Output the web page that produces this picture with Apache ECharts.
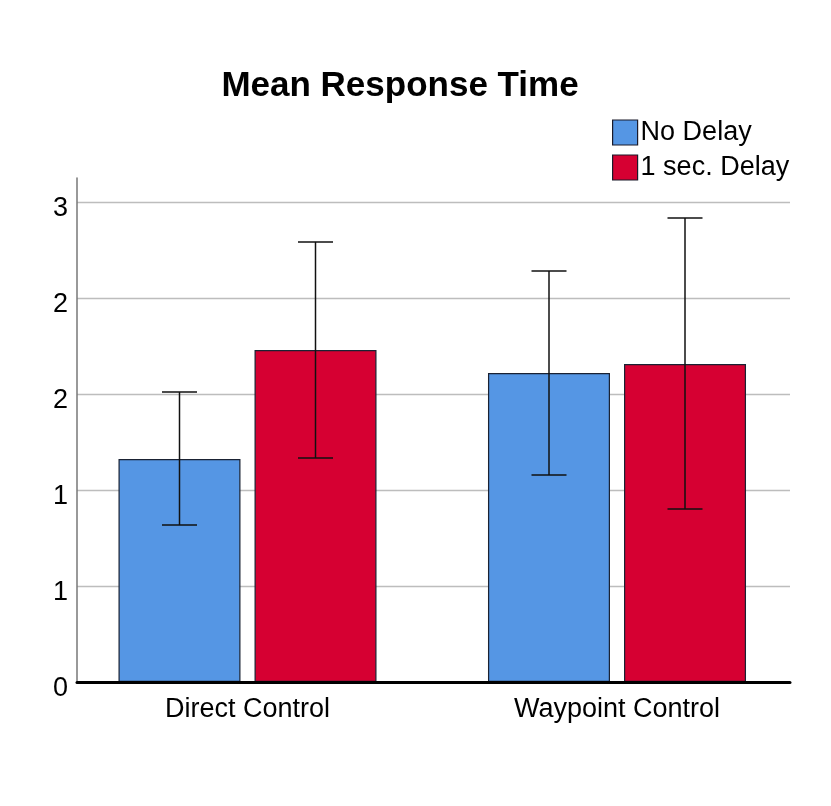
<!DOCTYPE html>
<html><head><meta charset="utf-8">
<script src="https://cdn.jsdelivr.net/npm/echarts@6/dist/echarts.min.js"></script>
<style>html,body{margin:0;padding:0;background:#fff}#c{width:831px;height:806px}</style>
</head><body><div id="c"></div>
<script>
const categories = ['Direct Control', 'Waypoint Control'];
const seriesNames = ['No Delay', '1 sec. Delay'];
const noDelay = [1.161, 1.609];
const oneSecDelay = [1.729, 1.656];
const noDelayLow = [0.818, 1.078];
const noDelayHigh = [1.510, 2.141];
const oneSecLow = [1.167, 0.901];
const oneSecHigh = [2.292, 2.417];
const yTickValues = [0, 0.5, 1, 1.5, 2, 2.5];
const yTickLabels = ['0', '1', '1', '2', '2', '3'];
const yMax = 2.625;

const colors = ['#5596E4', '#D60032'];
const font = 'Liberation Sans, Arial, sans-serif';

function errSeries(name, low, high, idx) {
  return {
    type: 'custom', name: name + ' err', xAxisIndex: 1, yAxisIndex: 1, z: 10,
    data: categories.map((c, i) => [i, low[i], high[i]]),
    renderItem: function (params, api) {
      const ci = api.value(0);
      const lo = api.coord([ci, api.value(1)]);
      const hi = api.coord([ci, api.value(2)]);
      const bw = 122, gap = 14;
      const offset = idx === 0 ? -(gap / 2 + bw / 2) : (gap / 2 + bw / 2);
      const x = lo[0] + offset;
      const hw = 17.5;
      const st = { stroke: '#111', lineWidth: 1.5 };
      return { type: 'group', children: [
        { type: 'line', shape: { x1: x, y1: lo[1], x2: x, y2: hi[1] }, style: st },
        { type: 'line', shape: { x1: x - hw, y1: lo[1], x2: x + hw, y2: lo[1] }, style: st },
        { type: 'line', shape: { x1: x - hw, y1: hi[1], x2: x + hw, y2: hi[1] }, style: st }
      ]};
    },
    silent: true
  };
}

const chart = echarts.init(document.getElementById('c'));
chart.setOption({
  animation: false,
  title: { text: 'Mean Response Time', left: 395, top: 64, textAlign: 'center',
    textStyle: { fontFamily: font, fontSize: 35, fontWeight: 'bold', color: '#000' } },
  legend: {
    data: seriesNames, orient: 'vertical', left: 607, top: 114, itemWidth: 25, itemHeight: 25,
    itemGap: 8, icon: 'rect',
    textStyle: { fontFamily: font, fontSize: 27, color: '#000', padding: [2, 0, 0, -2] },
    itemStyle: { borderColor: '#1a1a2a', borderWidth: 1.2 }
  },
  grid: [
    { left: 77, right: 41, top: 178, bottom: 124 },
    { left: 62.75, width: 739, top: 178, bottom: 124 }
  ],
  xAxis: [
    { type: 'category', gridIndex: 0, data: categories, z: 5,
      axisLine: { show: true, lineStyle: { color: '#000', width: 3 } },
      axisTick: { show: false }, axisLabel: { show: false }, splitLine: { show: false } },
    { type: 'category', gridIndex: 1, data: categories,
      axisLine: { show: false }, axisTick: { show: false },
      axisLabel: { fontFamily: font, fontSize: 27, color: '#000', margin: 14 } }
  ],
  yAxis: [
    { type: 'value', gridIndex: 0, min: 0, max: yMax, interval: 0.5,
      axisLine: { show: true, lineStyle: { color: '#777', width: 1.5 } },
      axisTick: { show: false },
      axisLabel: { fontFamily: font, fontSize: 27, color: '#000', margin: 9, showMaxLabel: false,
        verticalAlign: 'top', lineHeight: 13,
        formatter: v => { const i = yTickValues.indexOf(v); return i >= 0 ? yTickLabels[i] : ''; } },
      splitLine: { show: true, lineStyle: { color: ['#bdbdbd','#bdbdbd','#bdbdbd','#bdbdbd','#bdbdbd','#bdbdbd','rgba(0,0,0,0)'], width: 1.3 } } },
    { type: 'value', gridIndex: 1, min: 0, max: yMax, show: false, splitLine: { show: false } }
  ],
  series: [
    { name: seriesNames[0], type: 'bar', xAxisIndex: 1, yAxisIndex: 1, data: noDelay,
      barWidth: 122, barGap: '11.5%',
      itemStyle: { color: colors[0], borderColor: '#1a2233', borderWidth: 1.2 } },
    { name: seriesNames[1], type: 'bar', xAxisIndex: 1, yAxisIndex: 1, data: oneSecDelay,
      barWidth: 122, barGap: '11.5%',
      itemStyle: { color: colors[1], borderColor: '#1a2233', borderWidth: 1.2 } },
    errSeries(seriesNames[0], noDelayLow, noDelayHigh, 0),
    errSeries(seriesNames[1], oneSecLow, oneSecHigh, 1)
  ]
});
</script></body></html>
